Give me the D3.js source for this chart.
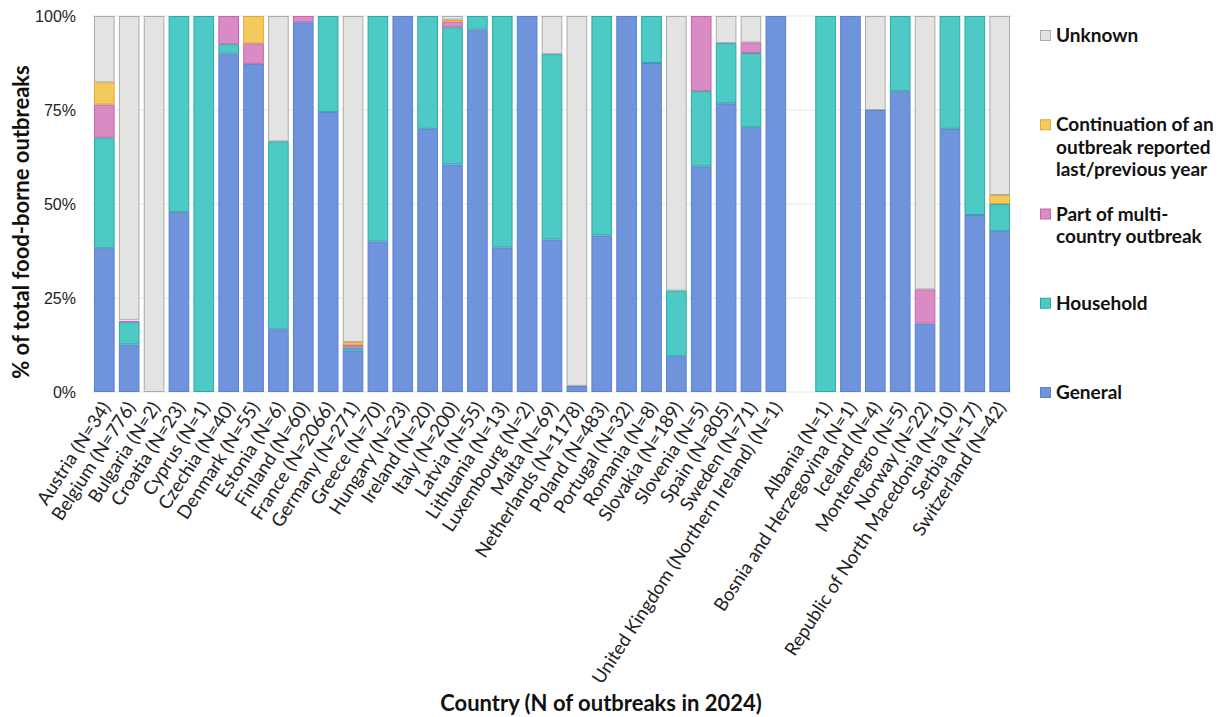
<!DOCTYPE html>
<html>
<head>
<meta charset="utf-8">
<script src="https://cdn.jsdelivr.net/npm/d3@7"></script>
<style>
    body { margin: 0; background: #fff; font-family: Lato, "Open Sans", sans-serif; }
    .grid line { stroke: #e6e6e6; stroke-width: 1; }
    .y-label { font-size: 16px; fill: #222; }
    .x-label { font-size: 18.5px; fill: #222; }
    .title { font-size: 22px; font-weight: bold; fill: #111; }
    .legend text { font-size: 19px; font-weight: bold; fill: #111; }
</style>
</head>
<body>
<script>
// EU member states (plus UK - Northern Ireland)
const euCountries = ['Austria', 'Belgium', 'Bulgaria', 'Croatia', 'Cyprus', 'Czechia', 'Denmark',
    'Estonia', 'Finland', 'France', 'Germany', 'Greece', 'Hungary', 'Ireland', 'Italy', 'Latvia',
    'Lithuania', 'Luxembourg', 'Malta', 'Netherlands', 'Poland', 'Portugal', 'Romania', 'Slovakia',
    'Slovenia', 'Spain', 'Sweden', 'United Kingdom (Northern Ireland)'];
const euN = [34, 776, 2, 23, 1, 40, 55, 6, 60, 2066, 271, 70, 23, 20, 200, 55, 13, 2, 69, 1178, 483,
    32, 8, 189, 5, 805, 71, 1];
const euGeneral = [13, 98, 0, 11, 0, 36, 48, 1, 59, 1538, 30, 28, 23, 14, 121, 53, 5, 2, 28, 19, 201,
    32, 7, 18, 3, 618, 50, 1];
const euHousehold = [10, 46, 0, 12, 1, 1, 0, 3, 0, 528, 2, 42, 0, 6, 73, 2, 8, 0, 34, 0, 282,
    0, 1, 33, 1, 129, 14, 0];
const euMulti = [3, 3, 0, 0, 0, 3, 3, 0, 1, 0, 2, 0, 0, 0, 3, 0, 0, 0, 0, 0, 0,
    0, 0, 0, 1, 0, 2, 0];
const euContinuation = [2, 2, 0, 0, 0, 0, 4, 0, 0, 0, 2, 0, 0, 0, 1, 0, 0, 0, 0, 0, 0,
    0, 0, 0, 0, 0, 0, 0];
const euUnknown = [6, 627, 2, 0, 0, 0, 0, 2, 0, 0, 235, 0, 0, 0, 2, 0, 0, 0, 7, 1159, 0,
    0, 0, 138, 0, 58, 5, 0];

// non-EU reporting countries
const otherCountries = ['Albania', 'Bosnia and Herzegovina', 'Iceland', 'Montenegro', 'Norway',
    'Republic of North Macedonia', 'Serbia', 'Switzerland'];
const otherN = [1, 1, 4, 5, 22, 10, 17, 42];
const otherGeneral = [0, 1, 3, 4, 4, 7, 8, 18];
const otherHousehold = [1, 0, 0, 1, 0, 3, 9, 3];
const otherMulti = [0, 0, 0, 0, 2, 0, 0, 0];
const otherContinuation = [0, 0, 0, 0, 0, 0, 0, 1];
const otherUnknown = [0, 0, 1, 0, 16, 0, 0, 20];

// stack order, bottom to top
const categories = ['General', 'Household', 'Part of multi-country outbreak',
    'Continuation of an outbreak reported last/previous year', 'Unknown'];
const yTicks = [0, 0.25, 0.5, 0.75, 1];

const colors = {
    'General': {fill: '#7094db', stroke: '#5a80d4'},
    'Household': {fill: '#4dc9c6', stroke: '#2ea9a3'},
    'Part of multi-country outbreak': {fill: '#d98bc3', stroke: '#c965ae'},
    'Continuation of an outbreak reported last/previous year': {fill: '#f3cb5c', stroke: '#dea935'},
    'Unknown': {fill: '#e3e3e3', stroke: '#ababab'}
};

// build table rows
const toRows = (names, n, gen, hh, multi, cont, unk) => names.map((name, i) => ({
    key: `${name} (N=${n[i]})`,
    'General': gen[i],
    'Household': hh[i],
    'Part of multi-country outbreak': multi[i],
    'Continuation of an outbreak reported last/previous year': cont[i],
    'Unknown': unk[i]
}));
const rows = toRows(euCountries, euN, euGeneral, euHousehold, euMulti, euContinuation, euUnknown)
    .concat(toRows(otherCountries, otherN, otherGeneral, otherHousehold, otherMulti, otherContinuation, otherUnknown));
// an empty slot separates the two groups
const gapKey = '__gap__';
const domain = rows.slice(0, euCountries.length).map(d => d.key)
    .concat([gapKey], rows.slice(euCountries.length).map(d => d.key));

const width = 1219, height = 717;
const plot = {left: 92, right: 1012, top: 16, bottom: 392};

const svg = d3.select('body').append('svg')
    .attr('width', width)
    .attr('height', height);

const x = d3.scaleBand()
    .domain(domain)
    .range([plot.left, plot.right])
    .paddingInner(0.17)
    .paddingOuter(0.08);
const y = d3.scaleLinear()
    .domain([0, 1])
    .range([plot.bottom, plot.top]);

// gridlines
svg.append('g')
    .attr('class', 'grid')
    .selectAll('line')
    .data(yTicks)
    .join('line')
    .attr('x1', plot.left)
    .attr('x2', plot.right)
    .attr('y1', d => y(d))
    .attr('y2', d => y(d));

// y axis labels
const yAxis = d3.axisLeft(y).tickValues(yTicks).tickFormat(d3.format('.0%')).tickSize(0).tickPadding(16);
svg.append('g')
    .attr('transform', `translate(${plot.left},0)`)
    .call(yAxis)
    .call(g => g.select('.domain').remove())
    .call(g => g.selectAll('text').attr('class', 'y-label').attr('font-family', null).attr('font-size', null));

// stacked bars, normalized to 100%
const series = d3.stack()
    .keys(categories)
    .offset(d3.stackOffsetExpand)(rows);

svg.append('g')
    .selectAll('g')
    .data(series)
    .join('g')
    .attr('fill', d => colors[d.key].fill)
    .attr('stroke', d => colors[d.key].stroke)
    .attr('stroke-width', 1)
    .selectAll('rect')
    .data(d => d.filter(s => s[1] - s[0] > 0))
    .join('rect')
    .attr('x', d => x(d.data.key) + 0.5)
    .attr('width', x.bandwidth() - 1)
    .attr('y', d => y(d[1]) + 0.5)
    .attr('height', d => Math.max(0, y(d[0]) - y(d[1]) - 1));

// rotated country labels
svg.append('g')
    .selectAll('text')
    .data(rows)
    .join('text')
    .attr('class', 'x-label')
    .attr('text-anchor', 'end')
    .attr('transform', d => `translate(${x(d.key) + x.bandwidth() / 2 + 7},${plot.bottom + 15}) rotate(-57)`)
    .text(d => d.key);

// axis titles
svg.append('text')
    .attr('class', 'title')
    .attr('text-anchor', 'middle')
    .attr('transform', 'translate(29,222) rotate(-90)')
    .text('% of total food-borne outbreaks');
svg.append('text')
    .attr('class', 'title')
    .attr('text-anchor', 'middle')
    .attr('x', 601)
    .attr('y', 711)
    .text('Country (N of outbreaks in 2024)');

// legend (top to bottom = stack top to bottom)
const legendItems = [
    {key: 'Unknown', lines: ['Unknown']},
    {key: 'Continuation of an outbreak reported last/previous year',
        lines: ['Continuation of an', 'outbreak reported', 'last/previous year']},
    {key: 'Part of multi-country outbreak', lines: ['Part of multi-', 'country outbreak']},
    {key: 'Household', lines: ['Household']},
    {key: 'General', lines: ['General']}
];
const legendY = d3.scalePoint().domain(legendItems.map(d => d.key)).range([35, 392]);
const legend = svg.append('g')
    .attr('class', 'legend')
    .selectAll('g')
    .data(legendItems)
    .join('g')
    .attr('transform', d => `translate(1040,${legendY(d.key)})`);
legend.append('rect')
    .attr('x', 0.5)
    .attr('y', -4.5)
    .attr('width', 10)
    .attr('height', 10)
    .attr('fill', d => colors[d.key].fill)
    .attr('stroke', d => colors[d.key].stroke);
legend.append('text')
    .attr('x', 16)
    .attr('y', 7)
    .selectAll('tspan')
    .data(d => d.lines)
    .join('tspan')
    .attr('x', 16)
    .attr('dy', (d, i) => i === 0 ? 0 : 22.3)
    .text(d => d);
</script>
</body>
</html>
